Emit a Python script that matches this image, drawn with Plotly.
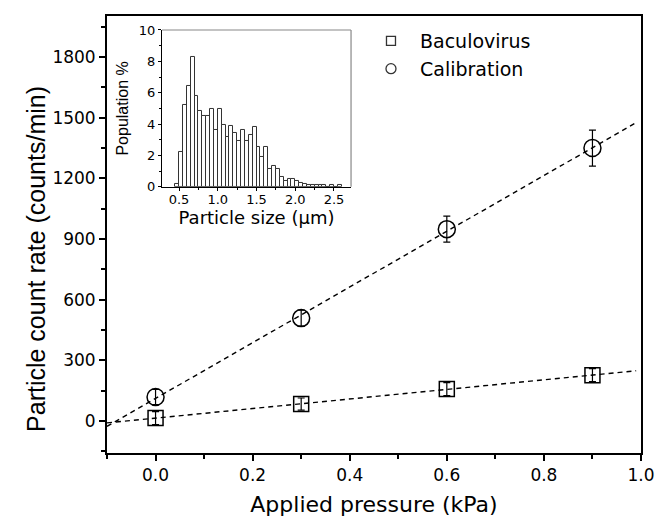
import numpy as np
import plotly.graph_objects as go

# ---- main data ----
pressure = [0.0, 0.3, 0.6, 0.9]
baculo = [15, 84, 158, 227]
baculo_err = [32, 30, 32, 32]
calib = [119, 509, 949, 1350]
calib_err = [38, 40, 64, 89]

# ---- inset histogram (bin centres, % population) ----
bin_width = 0.05
size_centres = [0.475, 0.525, 0.575, 0.625, 0.675, 0.725, 0.775, 0.825, 0.875, 0.925,
                0.975, 1.025, 1.075, 1.125, 1.175, 1.225, 1.275, 1.325, 1.375, 1.425,
                1.475, 1.525, 1.575, 1.625, 1.675, 1.725, 1.775, 1.825, 1.875, 1.925,
                1.975, 2.025, 2.075, 2.125, 2.175, 2.225, 2.275, 2.325, 2.375, 2.425,
                2.475, 2.525, 2.575]
population = [0.2, 2.2, 5.2, 6.4, 8.25, 5.8, 4.85, 4.5, 4.5, 4.97,
              3.6, 4.97, 3.95, 3.2, 3.9, 3.45, 2.9, 3.6, 2.95, 3.3,
              3.8, 2.55, 1.9, 2.55, 1.13, 1.3, 1.15, 0.63, 0.37, 0.48,
              0.53, 0.4, 0.23, 0.17, 0.15, 0.15, 0.15, 0.15, 0.15, 0.0,
              0.15, 0.0, 0.15]

HFONT = "DejaVu Sans, Liberation Sans, Arial, sans-serif"
VFONT = "Liberation Sans, Arial, sans-serif"
fig = go.Figure()

xfit = np.array([-0.1, 0.99])
for yv in (calib, baculo):
    k, b = np.polyfit(pressure, yv, 1)
    fig.add_trace(go.Scatter(x=xfit, y=k * xfit + b, mode="lines",
                             line=dict(color="black", width=1.4, dash="5px,4px"),
                             showlegend=False, hoverinfo="skip"))

fig.add_trace(go.Scatter(x=pressure, y=baculo, mode="markers",
                         marker=dict(symbol="square-open", size=15, color="black",
                                     line=dict(width=1.5)),
                         error_y=dict(type="data", array=baculo_err, color="black",
                                      thickness=1.2, width=3.5),
                         showlegend=False))
fig.add_trace(go.Scatter(x=pressure, y=calib, mode="markers",
                         marker=dict(symbol="circle-open", size=17, color="black",
                                     line=dict(width=1.5)),
                         error_y=dict(type="data", array=calib_err, color="black",
                                      thickness=1.2, width=3.5),
                         showlegend=False))

# legend proxies
fig.add_trace(go.Scatter(x=[None], y=[None], mode="markers", name="Baculovirus",
                         marker=dict(symbol="square-open", size=9, color="#333",
                                     line=dict(width=1.3))))
fig.add_trace(go.Scatter(x=[None], y=[None], mode="markers", name="Calibration",
                         marker=dict(symbol="circle-open", size=10, color="#333",
                                     line=dict(width=1.3))))

# inset histogram
fig.add_trace(go.Bar(x=size_centres, y=population, width=bin_width,
                     marker=dict(color="white", line=dict(color="#333", width=1)),
                     xaxis="x2", yaxis="y2", showlegend=False))

fig.update_layout(
    width=656, height=524,
    margin=dict(l=107, r=15, t=16, b=71),
    paper_bgcolor="white", plot_bgcolor="white",
    font=dict(family=HFONT, color="black"),
    bargap=0,
    legend=dict(x=0.4775, y=0.986, xanchor="left", yanchor="top",
                font=dict(size=19, family=HFONT), bgcolor="rgba(0,0,0,0)",
                itemwidth=48),
    xaxis=dict(range=[-0.1, 1.0], tickvals=[0, 0.2, 0.4, 0.6, 0.8, 1.0],
               ticktext=["0.0", "0.2", "0.4", "0.6", "0.8", "1.0"],
               ticks="outside", ticklen=6, tickwidth=1.5, tickcolor="black",
               minor=dict(dtick=0.1, tick0=0, ticks="outside", ticklen=4,
                          tickwidth=1.5, tickcolor="black"),
               showline=True, linecolor="black", linewidth=1.8, mirror=True,
               showgrid=False, zeroline=False, automargin=False,
               tickfont=dict(size=17, family=HFONT),
               title=dict(text="Applied pressure (kPa)", font=dict(size=22, family=HFONT),
                          standoff=12)),
    yaxis=dict(range=[-158, 2003], tickvals=[0, 300, 600, 900, 1200, 1500, 1800],
               ticks="outside", ticklen=6, tickwidth=1.5, tickcolor="black",
               minor=dict(dtick=150, tick0=0, ticks="outside", ticklen=4,
                          tickwidth=1.5, tickcolor="black"),
               showline=True, linecolor="black", linewidth=1.8, mirror=True,
               showgrid=False, zeroline=False, automargin=False,
               tickfont=dict(size=17, family=HFONT)),
    xaxis2=dict(domain=[0.103, 0.457], anchor="y2", range=[0.28, 2.72],
                tickvals=[0.5, 1.0, 1.5, 2.0, 2.5], ticktext=["0.5", "1.0", "1.5", "2.0", "2.5"],
                ticks="outside", ticklen=3, tickcolor="black",
                minor=dict(dtick=0.25, tick0=0, ticks="outside", ticklen=2, tickcolor="black"),
                showline=True, linecolor="black", linewidth=1.2, mirror=False,
                showgrid=False, zeroline=False, automargin=False,
                tickfont=dict(size=13, family=HFONT), ticklabelstandoff=-3,
                title=dict(text="Particle size (μm)", font=dict(size=18, family=HFONT),
                           standoff=0)),
    yaxis2=dict(domain=[0.609, 0.968], anchor="x2", range=[0, 10],
                tickvals=[0, 2, 4, 6, 8, 10],
                ticks="outside", ticklen=3, tickcolor="black",
                minor=dict(dtick=1, tick0=0, ticks="outside", ticklen=2, tickcolor="black"),
                showline=True, linecolor="black", linewidth=1.2,
                showgrid=False, zeroline=False, automargin=False,
                tickfont=dict(size=13, family=HFONT),
                title=dict(text="Population %", font=dict(size=16, family=VFONT),
                           standoff=6)),
)

# main y-axis title (placed slightly below centre, as in the reference)
fig.add_annotation(text="Particle count rate (counts/min)", textangle=-90,
                   xref="paper", yref="paper", x=-0.133, y=0.444,
                   xanchor="center", yanchor="middle", showarrow=False,
                   font=dict(size=25, family=VFONT, color="black"))

# gray mirror box of inset (top & right)
fig.add_shape(type="line", xref="x2 domain", yref="y2 domain", x0=0, x1=1, y0=1, y1=1,
              line=dict(color="#888", width=1.2))
fig.add_shape(type="line", xref="x2 domain", yref="y2 domain", x0=1, x1=1, y0=0, y1=1,
              line=dict(color="#888", width=1.2))

fig.write_html("out.html", config={"displayModeBar": False},
               post_script="document.body.style.margin='0';")
